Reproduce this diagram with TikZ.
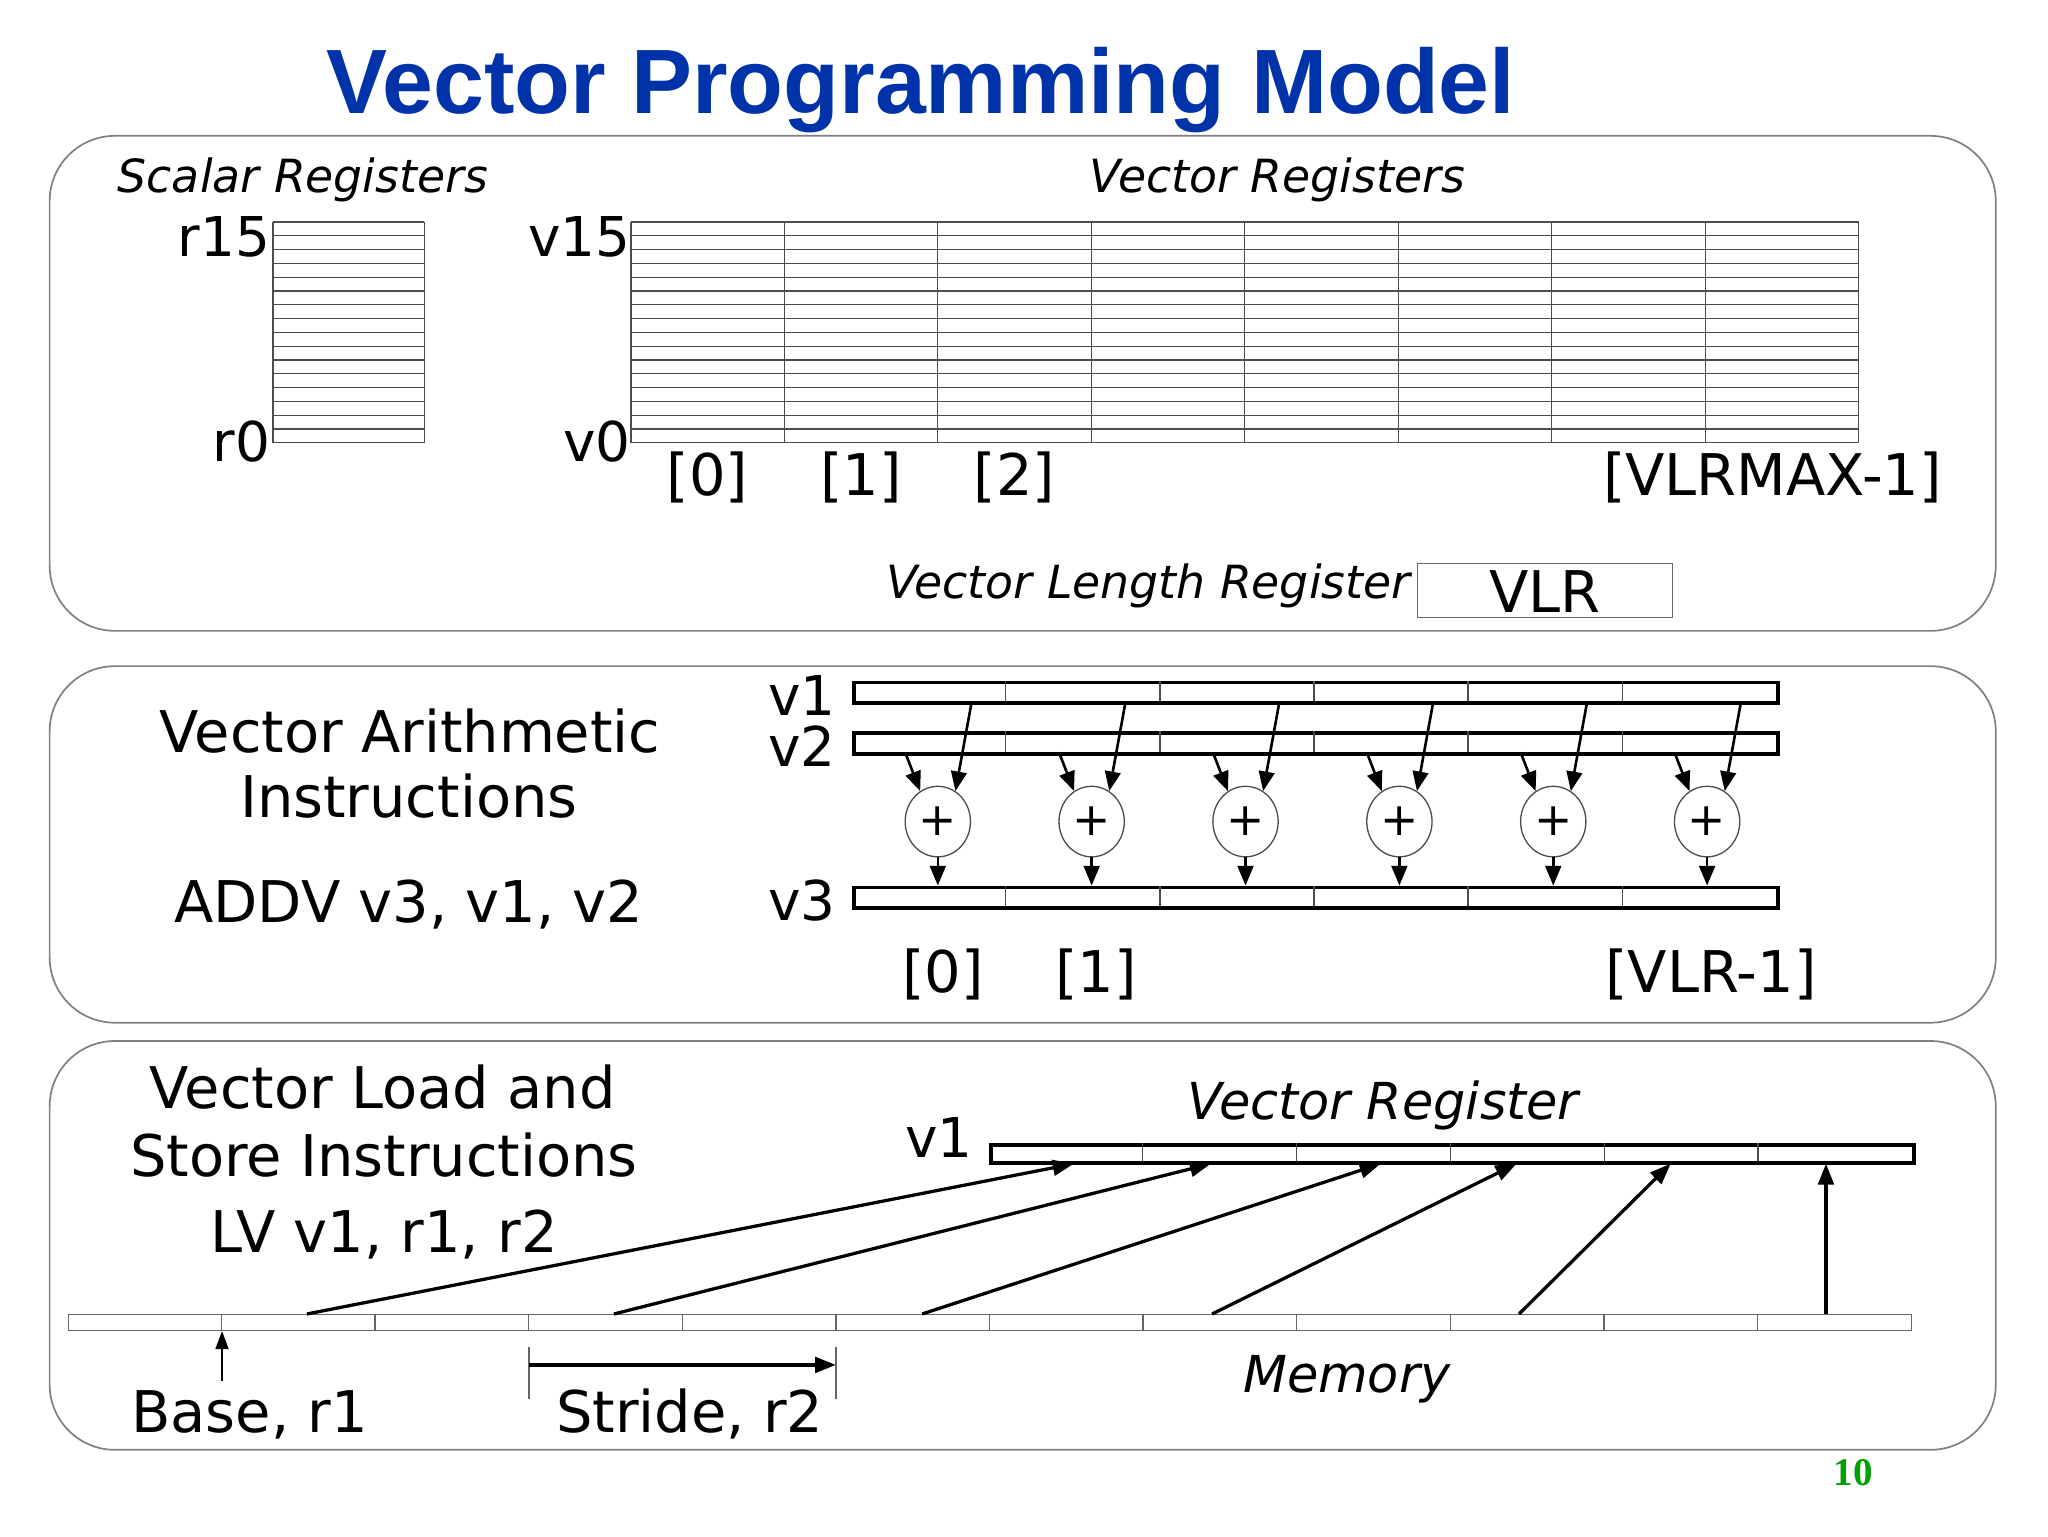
\documentclass[tikz,border=0pt]{standalone}
\usepackage{fontspec}
\setmainfont{DejaVu Sans}
\newfontfamily\titlefont{Liberation Sans}
\newfontfamily\numfont{Liberation Serif}
\usetikzlibrary{arrows.meta,shapes.geometric}

\definecolor{titleblue}{RGB}{0,51,170}
\definecolor{pagegreen}{RGB}{0,160,0}
\newcommand\bigtext{\fontsize{44}{50}\selectfont}
\newcommand\regtext{\fontsize{42}{48}\selectfont}
\newcommand\ittext{\fontsize{35}{40}\selectfont\itshape}

\tikzset{
  panel/.style={draw=black!50, line width=1.3pt, rounded corners=50pt},
  cell/.style={draw=black!70, line width=1pt},
  vreg/.style={draw, line width=3pt, inner sep=0pt, anchor=north west, minimum height=16pt},
  memrow/.style={draw=black!60, line width=1pt, inner sep=0pt, anchor=north west, minimum width=1411pt, minimum height=12pt},
  vlrbox/.style={draw=black!60, line width=1pt, inner sep=0pt, anchor=north west, minimum width=195pt, minimum height=41pt},
  adder/.style={draw=black!70, line width=1pt, ellipse, minimum width=50pt, minimum height=54pt, inner sep=0pt},
  txt/.style={inner sep=0pt, anchor=base},
  flow/.style={-{Triangle[length=15pt,width=12pt]}, line width=2pt},
  load/.style={-{Triangle[length=16pt,width=12pt]}, line width=2.5pt},
}

\begin{document}
\begin{tikzpicture}[x=1pt,y=-1pt]
  \useasboundingbox (0,0) rectangle (1568,1176);
  \fill[white] (0,0) rectangle (1568,1176);

  % title
  \node[txt, text=titleblue] (title) at (705,87) {\titlefont\bfseries\fontsize{70}{80}\selectfont Vector Programming Model};

  % panels
  \draw[panel] (38,104) rectangle (1528,483);
  \draw[panel] (38,510) rectangle (1528,783);
  \draw[panel] (38,797) rectangle (1528,1110);

  % --- register files
  \node[txt, anchor=base west] (scalarcap) at (90,147) {\ittext Scalar Registers};
  \node[txt] (vectorcap) at (978,147) {\ittext Vector Registers};
  \foreach \k in {0,...,16} {
    \draw[cell] (209,170+10.5625*\k) -- (325,170+10.5625*\k);
    \draw[cell] (483,170+10.5625*\k) -- (1423,170+10.5625*\k);
  }
  \draw[cell] (209,170) -- (209,339);
  \draw[cell] (325,170) -- (325,339);
  \foreach \k in {0,...,8}
    \draw[cell] (483+117.5*\k,170) -- (483+117.5*\k,339);
  \node[txt, anchor=base east] (r15) at (207,196) {\regtext r15};
  \node[txt, anchor=base east] (r0) at (207,353) {\regtext r0};
  \node[txt, anchor=base east] (v15) at (483,196) {\regtext v15};
  \node[txt, anchor=base east] (v0) at (483,353) {\regtext v0};
  \foreach \k in {0,1,2}
    \node[txt] (idx\k) at (541.75+117.5*\k,379) {\bigtext [\k]};
  \node[txt] (idxmax) at (1357,379) {\bigtext [VLRMAX-1]};
  \node[txt, anchor=base east] (vlrcap) at (1080,458) {\ittext Vector Length Register};
  \node[vlrbox] (vlr) at (1085,431) {};
  \node[txt] (vlrtxt) at (1183,469) {\bigtext VLR};

  % --- arithmetic
  \node[txt] (arith1) at (314,576) {\bigtext Vector Arithmetic};
  \node[txt] (arith2) at (313,626) {\bigtext Instructions};
  \node[txt] (addv) at (313,706) {\bigtext ADDV v3, v1, v2};
  \node[vreg, minimum width=708pt] (va) at (652,521) {};
  \node[vreg, minimum width=708pt] (vb) at (652,560) {};
  \node[vreg, minimum width=708pt] (vc) at (652,678) {};
  \foreach \k in {1,...,5} {
    \draw[cell] (652+118*\k,521) -- (652+118*\k,537);
    \draw[cell] (652+118*\k,560) -- (652+118*\k,576);
    \draw[cell] (652+118*\k,678) -- (652+118*\k,694);
  }
  \node[txt, anchor=base east, text height=31pt, text depth=0pt] (valbl) at (640,548) {\regtext v1};
  \node[txt, anchor=base east, text height=31pt, text depth=0pt] (vblbl) at (640,587) {\regtext v2};
  \node[txt, anchor=base east] (vclbl) at (640,705) {\regtext v3};
  \foreach \i in {0,...,5} {
    \pgfmathsetmacro\cx{718+117.8*\i}
    \node[adder] (add\i) at (\cx,629) {\fontsize{35}{40}\selectfont +};
    \coordinate (a\i) at (\cx+26,537);
    \coordinate (b\i) at (\cx-25,576);
    \coordinate (c\i) at (\cx,678);
    \draw[flow] (a\i) -- (add\i.60);
    \draw[flow] (b\i) -- (add\i.120);
    \draw[flow] (add\i) -- (c\i);
  }
  \node[txt] (out0) at (722,760) {\bigtext [0]};
  \node[txt] (out1) at (839,760) {\bigtext [1]};
  \node[txt] (outn) at (1310,760) {\bigtext [VLR-1]};

  % --- load / store
  \node[txt] (ls1) at (293,849) {\bigtext Vector Load and};
  \node[txt] (ls2) at (294,901) {\bigtext Store Instructions};
  \node[txt] (lv) at (294,959) {\bigtext LV v1, r1, r2};
  \node[txt] (vregcap) at (1059,857) {\fontsize{39}{44}\selectfont\itshape Vector Register};
  \node[txt, anchor=base east] (vdlbl) at (745,886) {\regtext v1};
  \node[vreg, minimum width=707pt, minimum height=14pt] (vd) at (757,875) {};
  \foreach \k in {1,...,5}
    \draw[cell] (757+117.8*\k,875) -- (757+117.8*\k,889);
  \node[memrow] (mem) at (52,1006) {};
  \foreach \k in {1,...,11}
    \draw[cell, draw=black!60] (52+117.6*\k,1006) -- (52+117.6*\k,1018);
  \foreach \m/\r [count=\k] in {235/822,470/927,706/1057,928/1161,1163/1279,1398/1398} {
    \coordinate (m\k) at (\m,1006);
    \coordinate (r\k) at (\r,891);
    \draw[load] (m\k) -- (r\k);
  }
  \node[txt] (memcap) at (1031,1066) {\fontsize{39}{44}\selectfont\itshape Memory};

  % base and stride
  \coordinate (base) at (170,1057);
  \draw[-{Triangle[length=14pt,width=10pt]}, line width=1.5pt] (base) -- (base |- mem.south);
  \node[txt] (basetxt) at (191,1097) {\bigtext Base, r1};
  \coordinate (s0) at (405,1045);
  \coordinate (s1) at (640,1045);
  \draw[cell, draw=black!60] (405,1031) -- (405,1071);
  \draw[cell, draw=black!60] (640,1031) -- (640,1071);
  \draw[load] (s0) -- (s1);
  \node[txt] (stridetxt) at (528,1097) {\bigtext Stride, r2};

  % page number
  \node[txt, text=pagegreen] (pagenum) at (1419,1137) {\numfont\bfseries\fontsize{30}{34}\selectfont 10};
\end{tikzpicture}
\end{document}
